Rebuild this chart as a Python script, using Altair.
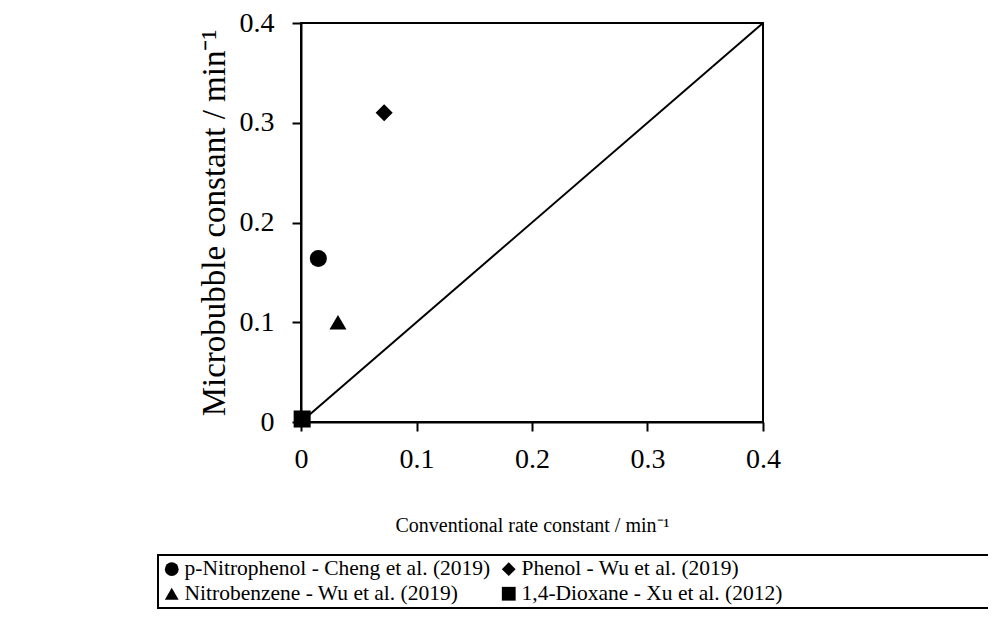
import altair as alt
import pandas as pd

# ---- data ----
compounds = [
    "p-Nitrophenol - Cheng et al. (2019)",
    "Phenol - Wu et al. (2019)",
    "Nitrobenzene - Wu et al. (2019)",
    "1,4-Dioxane - Xu et al. (2012)",
]
conventional = [0.015, 0.072, 0.032, 0.001]   # x: conventional rate constant
microbubble = [0.164, 0.310, 0.100, 0.003]    # y: microbubble constant
shapes = ["circle", "diamond", "triangle-up", "square"]
line_x = [0.0, 0.4]
line_y = [0.0, 0.4]
ticks = [0, 0.1, 0.2, 0.3, 0.4]

pts = pd.DataFrame({"compound": compounds, "x": conventional, "y": microbubble})
diag = pd.DataFrame({"x": line_x, "y": line_y})

FONT = "Liberation Serif"

xscale = alt.Scale(domain=[0, 0.4], nice=False, zero=False)
yscale = alt.Scale(domain=[0, 0.4], nice=False, zero=False)

xaxis = alt.Axis(
    title="Conventional rate constant / min⁻¹",
    values=ticks, format="~g", grid=False, labelFlush=False,
    tickSize=9, labelPadding=14, labelFontSize=28,
    titleFontSize=20, titlePadding=42,
)
yaxis = alt.Axis(
    title="Microbubble constant / min⁻¹",
    values=ticks, format="~g", grid=False, labelFlush=False,
    tickSize=9, labelPadding=18, labelFontSize=28,
    titleFontSize=33, titlePadding=8,
)

line = alt.Chart(diag).mark_line(color="black", strokeWidth=2).encode(
    x=alt.X("x:Q", scale=xscale, axis=xaxis),
    y=alt.Y("y:Q", scale=yscale, axis=yaxis),
)

# the legend box in the reference runs past the right edge of the picture:
# pad the second-column label with blank (non-whitespace) glyphs so the frame is clipped there
pad = "\u2800" * 24
label_expr = f"datum.value == '{compounds[1]}' ? datum.label + '{pad}' : datum.label"

points = alt.Chart(pts).mark_point(filled=True, color="black", opacity=1, size=290).encode(
    x=alt.X("x:Q", scale=xscale, axis=xaxis),
    y=alt.Y("y:Q", scale=yscale, axis=yaxis),
    shape=alt.Shape(
        "compound:N",
        scale=alt.Scale(domain=compounds, range=shapes),
        legend=alt.Legend(title=None, columns=2, direction="horizontal", labelExpr=label_expr),
    ),
)

chart = (
    alt.layer(line, points)
    .properties(
        width=462,
        height=399,
        autosize=alt.AutoSizeParams(type="none"),
        padding={"left": 293, "top": 15, "right": 225, "bottom": 200},
    )
    .configure_view(stroke="black", strokeWidth=2)
    .configure_axis(
        domainColor="black", domainWidth=2,
        tickColor="black", tickWidth=2,
        labelFont=FONT, titleFont=FONT,
        labelColor="black", titleColor="black",
        titleFontWeight="normal",
    )
    .configure_legend(
        orient="none", legendX=-143, legendY=532,
        strokeColor="black", strokeWidth=2, padding=3,
        labelFont=FONT, labelFontSize=21.5, labelColor="black",
        labelOffset=2, labelLimit=800,
        symbolSize=190, symbolFillColor="black", symbolStrokeColor="black",
        symbolStrokeWidth=0,
        columnPadding=7, rowPadding=2,
    )
)

chart.save("out.html", embed_options={"renderer": "svg", "actions": False})
